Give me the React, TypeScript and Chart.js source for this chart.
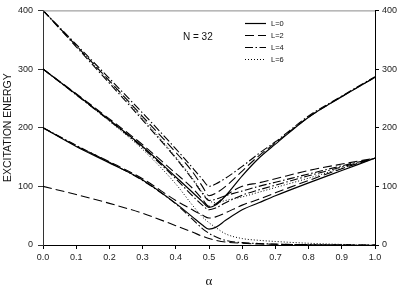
import { useEffect, useRef } from "react";
import { Chart, registerables } from "chart.js";
Chart.register(...registerables);

// control parameter alpha
const alpha = [0, 0.1, 0.2, 0.3, 0.4, 0.45, 0.48, 0.5, 0.52, 0.55, 0.6, 0.65, 0.7, 0.8, 0.9, 1.0];

// L=0 levels
const L0_a = [200, 168, 140, 111, 71, 48, 34, 27, 30, 42, 60, 72, 84, 106, 127, 148];
const L0_b = [300, 257, 213, 168, 116, 90, 74, 64, 68, 84, 118, 148, 172, 218, 253, 286];

// L=2 levels
const L2_a = [100, 86, 71, 54, 33, 22, 15, 11, 8, 5, 3, 1.8, 1.2, 0.5, 0.2, 0];
const L2_b = [200, 169, 142, 113, 76, 60, 51, 46, 48, 55, 68, 78, 89, 110, 130, 148];
const L2_c = [300, 258, 215, 171, 122, 97, 78, 66, 70, 84, 100, 106, 113, 127, 138, 148];
const L2_d = [400, 340, 280, 219, 158, 125, 100, 84, 88, 100, 126, 152, 174, 218, 253, 286];

// L=4 levels
const L4_a = [200, 170, 141, 110, 70, 44, 28, 20, 14, 8, 4, 2.5, 1.5, 0.6, 0.2, 0];
const L4_b = [300, 256, 212, 166, 113, 84, 68, 60, 63, 72, 85, 94, 102, 118, 133, 148];
const L4_c = [400, 338, 276, 213, 148, 112, 88, 76, 78, 84, 92, 100, 107, 121, 135, 148];
const L4_d = [400, 342, 284, 225, 164, 132, 112, 100, 104, 114, 134, 156, 176, 220, 254, 287];

// L=6 levels
const L6_a = [300, 256, 211, 163, 104, 68, 48, 38, 30, 19, 11, 8, 6, 3, 1, 0];
const L6_b = [400, 340, 279, 216, 150, 114, 90, 76, 72, 76, 82, 90, 98, 114, 131, 148];

const legendLabels = ["L=0", "L=2", "L=4", "L=6"];
const yTicks = [0, 100, 200, 300, 400];
const xTicks = [0, 0.1, 0.2, 0.3, 0.4, 0.5, 0.6, 0.7, 0.8, 0.9, 1.0];

const dashes: number[][] = [[], [9, 4], [8, 2.5, 1.5, 2.5], [1, 2]];
const widths = [1.2, 1.1, 1.1, 1];

const groups: number[][][] = [
  [L0_a, L0_b],
  [L2_a, L2_b, L2_c, L2_d],
  [L4_a, L4_b, L4_c, L4_d],
  [L6_a, L6_b],
];

const FONT = "'Liberation Sans', Arial, sans-serif";

const overlay = {
  id: "overlay",
  afterDraw(chart: any) {
    const ctx = chart.ctx;
    const { left, right, top } = chart.chartArea;
    ctx.save();
    // top frame line
    ctx.strokeStyle = "#8a8a8a";
    ctx.lineWidth = 1;
    ctx.setLineDash([]);
    ctx.beginPath();
    ctx.moveTo(left, top + 0.5);
    ctx.lineTo(right, top + 0.5);
    ctx.stroke();

    // N = 32 label
    ctx.fillStyle = "#111";
    ctx.font = `10px ${FONT}`;
    ctx.textBaseline = "middle";
    ctx.textAlign = "left";
    ctx.fillText("N = 32", 183, 37);

    // legend
    const rows = [23, 35, 47, 59];
    ctx.font = `7.5px ${FONT}`;
    legendLabels.forEach((lab, i) => {
      const y = rows[i] + 0.5;
      ctx.strokeStyle = "#000";
      ctx.lineWidth = widths[i];
      ctx.setLineDash(dashes[i]);
      ctx.beginPath();
      ctx.moveTo(245, y);
      ctx.lineTo(266, y);
      ctx.stroke();
      ctx.setLineDash([]);
      ctx.fillStyle = "#111";
      ctx.fillText(lab, 271, y);
    });
    ctx.restore();
  },
};

export default function App() {
  const ref = useRef<HTMLCanvasElement | null>(null);
  useEffect(() => {
    if (!ref.current) return;
    const datasets: any[] = [];
    groups.forEach((g, gi) => {
      g.forEach((arr, k) => {
        datasets.push({
          label: `${legendLabels[gi]}-${k}`,
          data: arr.map((v, i) => ({ x: alpha[i], y: v })),
          borderColor: "#000",
          borderWidth: widths[gi],
          borderDash: dashes[gi],
          pointRadius: 0,
          fill: false,
          cubicInterpolationMode: "monotone",
          yAxisID: "y",
        });
      });
    });
    const chart = new Chart(ref.current, {
      type: "line",
      data: { datasets },
      options: {
        animation: false,
        responsive: false,
        maintainAspectRatio: false,
        layout: { padding: { top: 6, left: 0, right: 0, bottom: 0 } },
        plugins: { legend: { display: false }, tooltip: { enabled: false } },
        scales: {
          x: {
            type: "linear",
            position: "bottom",
            min: 0,
            max: 1,
            afterBuildTicks: (s: any) => {
              s.ticks = xTicks.map((v) => ({ value: v }));
            },
            afterFit: (s: any) => {
              s.height = 45;
            },
            ticks: {
              callback: (v: any) => Number(v).toFixed(1),
              font: { size: 9, family: FONT },
              color: "#222",
              padding: 3,
              maxRotation: 0,
              autoSkip: false,
            },
            grid: { drawOnChartArea: false, tickLength: 4, color: "#000" },
            border: { color: "#000", width: 1 },
            title: {
              display: true,
              text: "α",
              font: { size: 13, family: "'Liberation Serif', 'DejaVu Serif', serif" },
              color: "#111",
              padding: { top: 0, bottom: 1 },
            },
          },
          y: {
            position: "left",
            min: 0,
            max: 400,
            afterBuildTicks: (s: any) => {
              s.ticks = yTicks.map((v) => ({ value: v }));
            },
            afterFit: (s: any) => {
              s.width = 43;
            },
            ticks: { font: { size: 9, family: FONT }, color: "#222", padding: 5 },
            grid: { drawOnChartArea: false, tickLength: 5, color: "#333" },
            border: { color: "#333", width: 1 },
            title: {
              display: true,
              text: "EXCITATION ENERGY",
              font: { size: 10.5, family: FONT },
              color: "#111",
              padding: { top: 2, bottom: 0 },
            },
          },
          y2: {
            position: "right",
            min: 0,
            max: 400,
            afterBuildTicks: (s: any) => {
              s.ticks = yTicks.map((v) => ({ value: v }));
            },
            afterFit: (s: any) => {
              s.width = 24;
            },
            ticks: { font: { size: 9, family: FONT }, color: "#222", padding: 3 },
            grid: { drawOnChartArea: false, tickLength: 4, color: "#000" },
            border: { color: "#000", width: 1 },
          },
        },
      },
      plugins: [overlay],
    } as any);
    return () => chart.destroy();
  }, []);
  return (
    <div style={{ position: "fixed", left: 0, top: 0, width: 399, height: 290 }}>
      <canvas ref={ref} width={399} height={290} style={{ display: "block", width: 399, height: 290 }} />
    </div>
  );
}
